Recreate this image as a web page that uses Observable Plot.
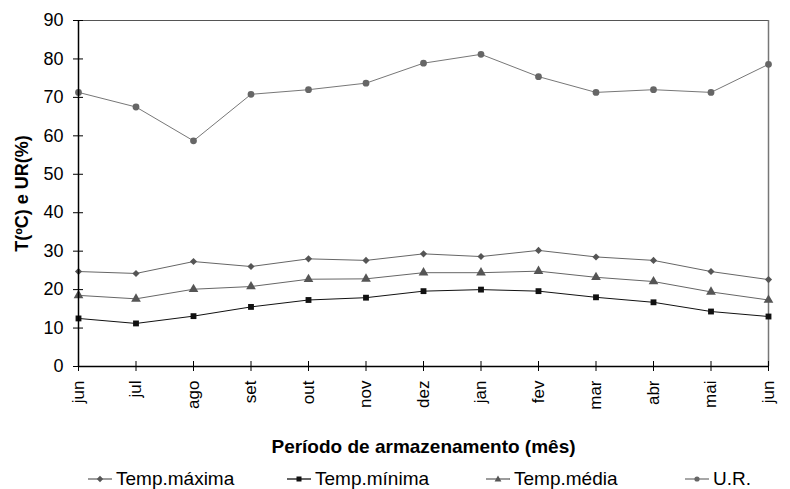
<!DOCTYPE html>
<html>
<head>
<meta charset="utf-8">
<script src="https://cdn.jsdelivr.net/npm/d3@7"></script>
<script src="https://cdn.jsdelivr.net/npm/@observablehq/plot@0.6"></script>
<style>
  body { margin: 0; background: #fff; font-family: "Liberation Sans", Arial, sans-serif; }
  #chart svg { display: block; }
  [aria-label="x-axis label"] text { font-weight: bold; font-size: 19px; }
  [aria-label="y-axis label"] text { font-weight: bold; font-size: 18px; }
  #legend { position: relative; height: 29px; font-size: 19px; color: #000; }
  .item { position: absolute; top: 8px; display: flex; align-items: center; height: 22px; }
  .item svg { margin-right: 4px; }
</style>
</head>
<body>
<div id="chart"></div>
<div id="legend"></div>
<script>
const months = ["jun","jul","ago","set","out","nov","dez","jan","fev","mar","abr","mai","jun"];
const tempMax = [24.7, 24.2, 27.3, 26.0, 28.0, 27.6, 29.3, 28.6, 30.2, 28.5, 27.6, 24.7, 22.6];
const tempMin = [12.5, 11.2, 13.1, 15.5, 17.3, 17.9, 19.6, 20.0, 19.6, 18.0, 16.7, 14.3, 13.0];
const tempMed = [18.5, 17.6, 20.1, 20.8, 22.7, 22.8, 24.4, 24.4, 24.8, 23.2, 22.1, 19.4, 17.3];
const ur      = [71.3, 67.5, 58.7, 70.8, 72.0, 73.7, 78.9, 81.2, 75.4, 71.3, 72.0, 71.3, 78.6];
const yTicks = [0, 10, 20, 30, 40, 50, 60, 70, 80, 90];

const seriesDefs = [
  {name: "Temp.máxima", values: tempMax, symbol: "diamond2", line: "#666", fill: "#555", r: 3.2},
  {name: "Temp.mínima", values: tempMin, symbol: "square", line: "#111", fill: "#111", r: 3.3},
  {name: "Temp.média", values: tempMed, symbol: "triangle", line: "#666", fill: "#555", r: 3.6},
  {name: "U.R.", values: ur, symbol: "circle", line: "#777", fill: "#666", r: 3.4}
];
const idx = months.map((_, i) => i);

const marks = [
  Plot.ruleY([90], {stroke: "#555", strokeWidth: 1.2}),
  Plot.ruleX([months.length - 1], {stroke: "#777", strokeWidth: 1.5}),
  Plot.axisY({ticks: yTicks, tickSize: 5, tickPadding: 10, fontSize: 18, label: "T(ºC) e UR(%)", labelAnchor: "center", labelOffset: 63, labelArrow: "none", stroke: "#000"}),
  Plot.axisY({ticks: yTicks, tickSize: -5, tickFormat: () => "", label: null, stroke: "#000"}),
  Plot.axisX({ticks: idx, tickFormat: i => months[i], tickSize: 5, tickPadding: 9, tickRotate: -90, fontSize: 17, label: "Período de armazenamento (mês)", labelAnchor: "center", labelOffset: 86, labelArrow: "none", stroke: "#000"}),
  Plot.axisX({ticks: idx, tickSize: -5, tickFormat: () => "", label: null, stroke: "#000"}),
];
for (const s of seriesDefs) {
  const data = s.values.map((v, i) => ({i, v}));
  marks.push(Plot.line(data, {x: "i", y: "v", stroke: s.line, strokeWidth: 1}));
  marks.push(Plot.dot(data, {x: "i", y: "v", symbol: () => s.symbol, fill: s.fill, stroke: "none", r: s.r}));
}
marks.push(Plot.ruleX([0], {stroke: "#000", strokeWidth: 1.5}));
marks.push(Plot.ruleY([0], {stroke: "#000", strokeWidth: 1.5}));

const chart = Plot.plot({
  width: 790,
  height: 460,
  marginLeft: 78,
  marginRight: 22,
  marginTop: 20,
  marginBottom: 94,
  style: {fontFamily: "'Liberation Sans', Arial, sans-serif", fontSize: "17px", color: "#000", background: "#fff"},
  x: {type: "linear", domain: [0, months.length - 1]},
  y: {domain: [0, 90]},
  symbol: {type: "identity"},
  marks
});
document.getElementById("chart").appendChild(chart);

// Legend
const legend = document.getElementById("legend");
const shapes = {
  "diamond2": '<path d="M12 1.8 L15.2 5 L12 8.2 L8.8 5 Z"/>',
  "square": '<rect x="9.5" y="2.5" width="5" height="5"/>',
  "triangle": '<path d="M12 1.6 L15.4 7.6 L8.6 7.6 Z"/>',
  "circle": '<circle cx="12" cy="5" r="2.6"/>'
};
seriesDefs.forEach((s, k) => {
  const div = document.createElement("div");
  div.className = "item";
  div.style.left = (88 + k * 199) + "px";
  div.innerHTML = `<svg width="24" height="10"><line x1="0" x2="24" y1="5" y2="5" stroke="${s.line}" stroke-width="1.3"/><g fill="${s.fill}">${shapes[s.symbol]}</g></svg><span>${s.name}</span>`;
  legend.appendChild(div);
});
</script>
</body>
</html>
